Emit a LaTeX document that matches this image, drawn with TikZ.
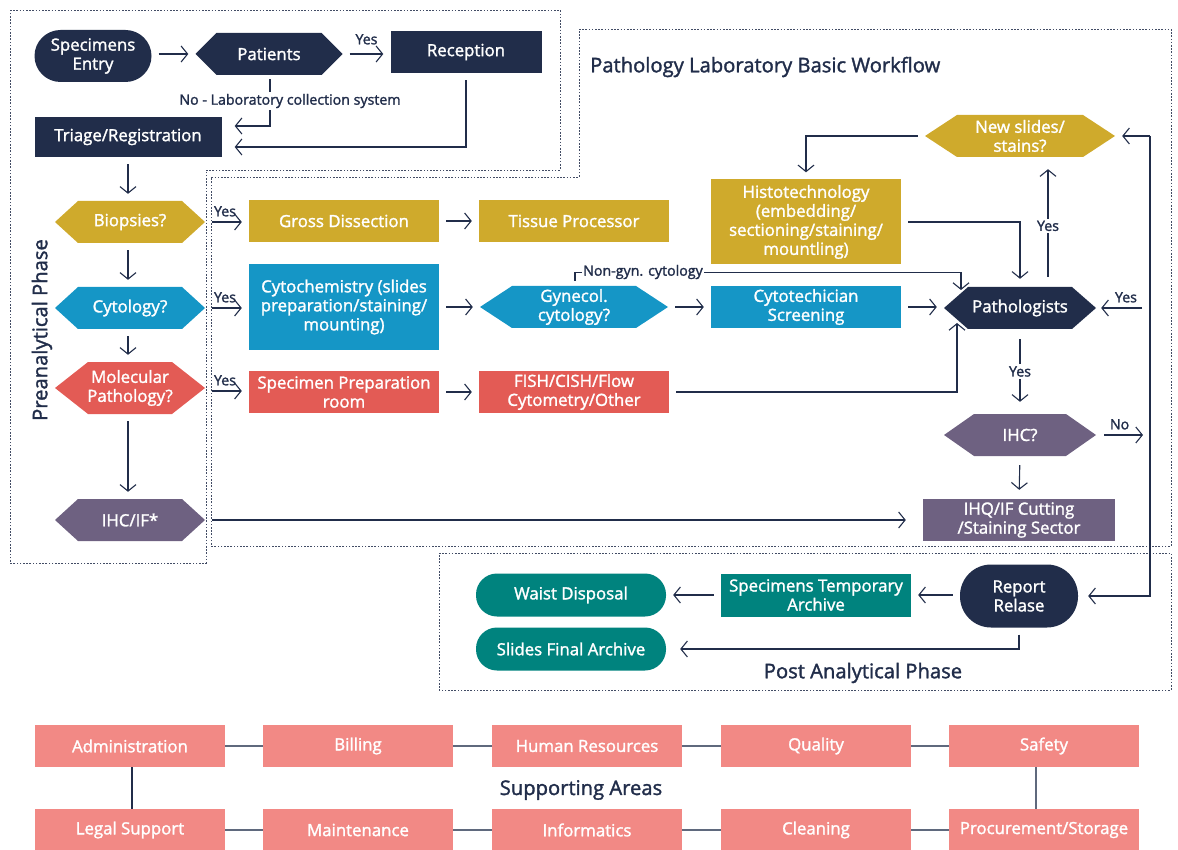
\documentclass[tikz,border=0pt]{standalone}
\usepackage{fontspec}
\setmainfont{Open Sans}[BoldFont={Open Sans},BoldFeatures={FakeBold=1.6}]
\usetikzlibrary{arrows.meta,calc}
\definecolor{navy}{RGB}{33,45,74}
\definecolor{gold}{RGB}{207,170,44}
\definecolor{blue}{RGB}{21,150,198}
\definecolor{red}{RGB}{227,91,85}
\definecolor{purple}{RGB}{110,97,129}
\definecolor{teal}{RGB}{0,131,126}
\definecolor{pink}{RGB}{242,137,133}
\definecolor{sgray}{RGB}{95,105,125}
\tikzset{
  conn/.style={draw=navy, line width=1.1pt, shorten <=7pt, shorten >=7pt,
    -{Straight Barb[length=6.5pt,width=16pt,line width=1.1pt]}},
  plain/.style={draw=navy, line width=1.1pt},
  txt/.style={text=white, font=\fontsize{16.8}{19}\selectfont\bfseries, align=center},
  box/.style={rectangle, fill=#1, txt, inner sep=1pt},
  stadium/.style={rectangle, fill=#1, txt, inner sep=1pt},
  hexlabel/.style={rectangle, txt, inner sep=0pt},
  lbl/.style={font=\fontsize{14.2}{16}\selectfont\bfseries, text=navy, inner sep=1pt},
  phase/.style={font=\fontsize{20.2}{23}\selectfont\bfseries, text=navy, inner sep=0pt},
  zone/.style={draw=navy!85, line width=0.8pt, dash pattern=on 1.6pt off 1.6pt},
  sbox/.style={rectangle, fill=pink, text=white, font=\fontsize{16.8}{19}\selectfont\bfseries,
    minimum width=190, minimum height=42, inner sep=1pt},
  sline/.style={draw=sgray, line width=1.8pt},
}
% name, cx, cy, width, height, inset, colour, text
\newcommand{\hexa}[8]{%
  \fill[#7] (#2-#4/2,#3) -- (#2-#4/2+#6,#3-#5/2) -- (#2+#4/2-#6,#3-#5/2) -- (#2+#4/2,#3)
    -- (#2+#4/2-#6,#3+#5/2) -- (#2-#4/2+#6,#3+#5/2) -- cycle;
  \node[hexlabel, minimum width=#4, minimum height=#5] (#1) at (#2,#3) {#8};}
\begin{document}
\begin{tikzpicture}[x=1pt,y=-1pt]
\useasboundingbox (0,0) rectangle (1178,850);
% zones
\draw[zone] (10,10) -- (560,10) -- (560,170) -- (206,170) -- (206,563) -- (10,563) -- cycle;
\draw[zone] (579,29) -- (1171,29) -- (1171,546) -- (211,546) -- (211,177) -- (579,177) -- cycle;
\draw[zone] (439,553) -- (1171,553) -- (1171,690) -- (439,690) -- cycle;
\node[phase, anchor=west] (title) at (590,67) {Pathology Laboratory Basic Workflow};
\node[phase, rotate=90] (prephase) at (42,330) {Preanalytical Phase};
\node[phase] (postphase) at (863,673) {Post Analytical Phase};

% top
\node[stadium=navy, rounded corners=26pt, minimum width=117, minimum height=52] (entry) at (93,56) {Specimens\\Entry};
\hexa{pat}{269}{54}{147}{42}{21}{navy}{Patients}
\node[box=navy, minimum width=151, minimum height=42] (reception) at (466,52) {Reception};
\node[box=navy, minimum width=187, minimum height=40] (triage) at (128,137) {Triage/Registration};

% left column
\hexa{bio}{130}{222}{150}{42}{23}{gold}{Biopsies?}
\hexa{cyt}{130}{308}{150}{42}{23}{blue}{Cytology?}
\hexa{mol}{130}{388}{150}{52}{33}{red}{Molecular\\Pathology?}
\hexa{ihcif}{130}{520}{150}{42}{23}{purple}{IHC/IF*}

% middle
\node[box=gold, minimum width=190, minimum height=42] (gross) at (344,221) {Gross Dissection};
\node[box=gold, minimum width=190, minimum height=42] (tissue) at (574,221) {Tissue Processor};
\node[box=blue, minimum width=190, minimum height=85] (cytochem) at (344,307) {Cytochemistry (slides\\preparation/staining/\\mounting)};
\hexa{gyn}{574}{307}{188}{42}{32}{blue}{Gynecol.\\cytology?}
\node[box=blue, minimum width=190, minimum height=42] (screen) at (806,307) {Cytotechician\\Screening};
\node[box=gold, minimum width=190, minimum height=85] (histo) at (806,222) {Histotechnology\\(embedding/\\sectioning/staining/\\mountling)};
\node[box=red, minimum width=190, minimum height=42] (specprep) at (344,392) {Specimen Preparation\\room};
\node[box=red, minimum width=190, minimum height=42] (fish) at (574,392) {FISH/CISH/Flow\\Cytometry/Other};

% right
\hexa{news}{1020}{136}{190}{42}{32}{gold}{New slides/\\stains?}
\hexa{path}{1020}{308}{152}{42}{24}{navy}{Pathologists}
\hexa{ihc}{1020}{435}{152}{42}{30}{purple}{IHC?}
\node[box=purple, minimum width=192, minimum height=42] (ihq) at (1019,520) {IHQ/IF Cutting\\/Staining Sector};

% post analytical
\node[stadium=navy, rounded corners=31pt, minimum width=118, minimum height=63] (report) at (1019,596) {Report\\Relase};
\node[box=teal, minimum width=190, minimum height=43] (temp) at (816,595) {Specimens Temporary\\Archive};
\node[stadium=teal, rounded corners=21pt, minimum width=190, minimum height=43] (waist) at (571,595) {Waist Disposal};
\node[stadium=teal, rounded corners=21pt, minimum width=190, minimum height=43] (final) at (571,649) {Slides Final Archive};

% connectors top
\draw[conn] (entry.east |- pat.west) -- (pat.west);
\draw[conn] (pat.east) -- (pat.east -| reception.west) node[lbl, above, midway, yshift=8pt] (yes0) {Yes};
\draw[conn, shorten >=13pt] ($(pat.south)+(1,-3)$) |- ($(triage.east)+(0,-11)$);
\node[lbl, fill=white, inner sep=2pt] (nolab) at (290,101) {No - Laboratory collection system};
\draw[conn, shorten <=0pt, shorten >=13pt] ($(reception.south)+(0,7)$) |- ($(triage.east)+(0,10)$);
\draw[conn] (triage.south) -- (triage.south |- bio.north);

% left column
\draw[conn] ($(bio.south)+(-2,0)$) -- ($(cyt.north)+(-2,0)$);
\draw[conn] ($(cyt.south)+(-2,0)$) -- ($(mol.north)+(-2,0)$);
\draw[conn] ($(mol.south)+(-2,0)$) -- ($(ihcif.north)+(-2,0)$);
\draw[conn] (bio.east) -- (bio.east -| gross.west) node[lbl, above, midway, xshift=-2pt, yshift=4pt] (yes1) {Yes};
\draw[conn] (cyt.east) -- (cyt.east -| cytochem.west) node[lbl, above, midway, xshift=-2pt, yshift=4pt] (yes2) {Yes};
\draw[conn] ($(mol.east)+(0,3)$) -- ($(mol.east -| specprep.west)+(0,3)$) node[lbl, above, midway, xshift=-2pt, yshift=4pt] (yes3) {Yes};
\draw[conn, shorten >=17pt] (ihcif.east) -- (ihcif.east -| ihq.west);

% middle rows
\draw[conn] (gross.east) -- (tissue.west);
\draw[conn] (cytochem.east |- gyn.west) -- (gyn.west);
\draw[conn] (gyn.east) -- (gyn.east -| screen.west);
\draw[conn] (screen.east) -- (screen.east -| path.west);
\draw[conn] (specprep.east) -- (fish.west);
\coordinate (ngstart) at ($(gyn.north)+(1,-5)$);
\coordinate (ngend) at (961,290);
\draw[conn, shorten <=0pt, shorten >=0pt] (ngstart) -- ++(0,-8) -| (ngend);
\node[lbl, fill=white, inner sep=1.5pt] (nglab) at (643,272) {Non-gyn. cytology};
\coordinate (fishend) at (957,323);
\draw[conn, shorten >=0pt] (fish.east) -| (fishend);

% right column
\draw[conn] (news.west) -| (histo.north);
\draw[conn, shorten >=8pt] (histo.east) -| (path.north);
\draw[conn, shorten <=10pt, shorten >=12pt] ($(path.north)+(28,0)$) -- ($(news.south)+(28,0)$) node[lbl, fill=white, pos=0.47, inner sep=2pt] (yes4) {Yes};
\coordinate (yesin) at (1142,308);
\draw[conn, shorten <=0pt, shorten >=5pt] (yesin) -- (path.east) node[lbl, above, pos=0.35, yshift=4pt] (yes5) {Yes};
\draw[conn, shorten <=10pt, shorten >=12pt] (path.south) -- (ihc.north) node[lbl, fill=white, midway, inner sep=2pt] (yes6) {Yes};
\coordinate (noout) at (1143,435);
\draw[conn, shorten <=8pt, shorten >=0pt] (ihc.east) -- (noout) node[lbl, above, midway, yshift=4pt] (no1) {No};
\draw[conn, shorten <=9pt, shorten >=9pt] (ihc.south) -- (ihq.north);
\coordinate (rv) at (1150,136);
\draw[conn, shorten <=0pt] (rv) -- (news.east);
\draw[conn, shorten <=0pt, shorten >=10pt] (rv) |- (report.east);

% post
\draw[conn] (report.west |- temp.east) -- (temp.east);
\draw[conn] (temp.west) -- (temp.west -| waist.east);
\draw[conn, shorten >=14pt] (report.south) |- (final.east);

% supporting areas
\node[sbox] (adm) at (130,746) {Administration};
\node[sbox] (bill) at (358,746) {Billing};
\node[sbox] (hr) at (587,746) {Human Resources};
\node[sbox] (qual) at (816,746) {Quality};
\node[sbox] (safe) at (1044,746) {Safety};
\node[sbox] (legal) at (130,830) {Legal Support};
\node[sbox] (maint) at (358,830) {Maintenance};
\node[sbox] (info) at (587,830) {Informatics};
\node[sbox] (clean) at (816,830) {Cleaning};
\node[sbox] (proc) at (1044,830) {Procurement/Storage};
\node[phase] (supp) at (581,790) {Supporting Areas};
\draw[sline] (adm) -- (bill);
\draw[sline] (bill) -- (hr);
\draw[sline] (hr) -- (qual);
\draw[sline] (qual) -- (safe);
\draw[sline] (legal) -- (maint);
\draw[sline] (maint) -- (info);
\draw[sline] (info) -- (clean);
\draw[sline] (clean) -- (proc);
\draw[plain] ($(adm.south)+(2,0)$) -- ($(legal.north)+(2,0)$);
\draw[sline, line width=1.2pt] ($(safe.south)+(-8,0)$) -- ($(proc.north)+(-8,0)$);
\end{tikzpicture}
\end{document}
